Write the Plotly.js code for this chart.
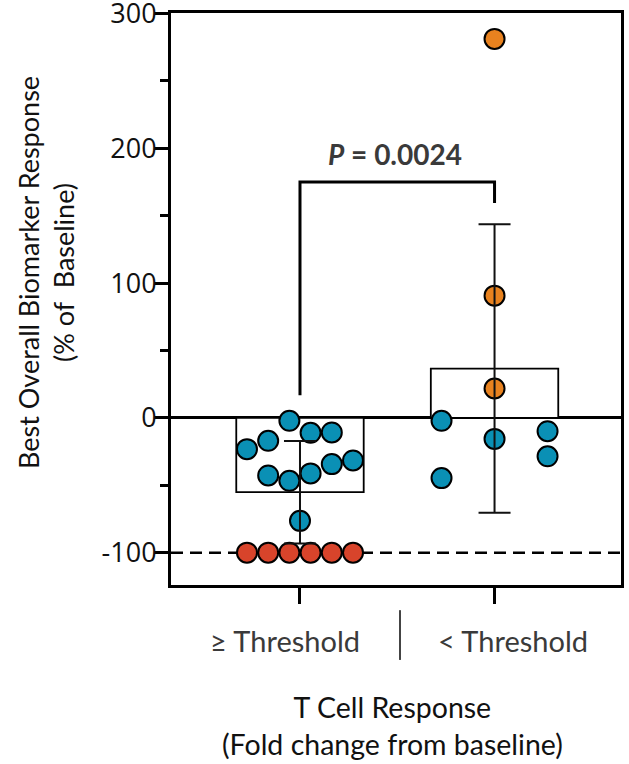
<!DOCTYPE html>
<html>
<head>
<meta charset="utf-8">
<script src="https://cdn.plot.ly/plotly-3.0.1.min.js"></script>
<style>html,body{margin:0;padding:0;background:#fff;}#chart{width:629px;height:764px;}</style>
</head>
<body>
<div id="chart"></div>
<script>
// ---- data ----
const categories = ["≥ Threshold", "< Threshold"];
// group 1 (≥ Threshold)
const g1BlueValues = [-2.2, -11.1, -10.8, -17.0, -23.2, -31.6, -34.3, -41.2, -42.7, -46.7, -76.4];
const g1BlueSlots  = [-0.5, 0.5, 1.5, -1.5, -2.5, 2.5, 1.5, 0.5, -1.5, -0.5, 0];
const g1RedValues  = [-100, -100, -100, -100, -100, -100];
const g1RedSlots   = [-2.5, -1.5, -0.5, 0.5, 1.5, 2.5];
// group 2 (< Threshold)
const g2OrangeValues = [281.2, 90.7, 21.8];
const g2OrangeSlots  = [0, 0, 0];
const g2BlueValues   = [-2.2, -15.6, -9.9, -28.5, -44.7];
const g2BlueSlots    = [-2.5, 0, 2.5, 2.5, -2.5];
const yTickVals = [-100, 0, 100, 200, 300];
const yTickText = ["-100", "0", "100", "200", "300"];
const pValueText = "<i>P</i> = 0.0024";
const bracketLeftBottom = 16.8, bracketTop = 175, bracketRightBottom = 159.4;

// ---- helpers ----
const slotStep = 0.109;
const swarmX = (g, slots) => slots.map(s => g + s * slotStep);
function mean(a){ return a.reduce((s,v)=>s+v,0)/a.length; }
function sd(a){ const m=mean(a); return Math.sqrt(a.reduce((s,v)=>s+(v-m)*(v-m),0)/(a.length-1)); }
const g1All = g1BlueValues.concat(g1RedValues);
const g2All = g2OrangeValues.concat(g2BlueValues);
const means = [mean(g1All), mean(g2All)];
const sds = [sd(g1All), sd(g2All)];

const blue = "#0a90b5", red = "#d8442b", orange = "#e8821f";
const mk = c => ({size: 20, color: c, line: {color: "#000", width: 2}});

const traces = [
  {type: "bar", x: [0, 1], y: means, width: 0.655,
   marker: {color: "#fff", line: {color: "#000", width: 1.8}}, hoverinfo: "skip"},
  {type: "scatter", mode: "markers", x: swarmX(0, g1BlueSlots), y: g1BlueValues, marker: mk(blue), hoverinfo: "y"},
  {type: "scatter", mode: "markers", x: swarmX(0, g1RedSlots), y: g1RedValues, marker: mk(red), hoverinfo: "y"},
  {type: "scatter", mode: "markers", x: swarmX(1, g2OrangeSlots), y: g2OrangeValues, marker: mk(orange), hoverinfo: "y"},
  {type: "scatter", mode: "markers", x: swarmX(1, g2BlueSlots), y: g2BlueValues, marker: mk(blue), hoverinfo: "y"},
  {type: "scatter", mode: "markers", x: [0, 1], y: means,
   marker: {size: 1, color: "rgba(0,0,0,0)"},
   error_y: {type: "data", array: sds, visible: true, color: "#111", thickness: 2, width: 16},
   hoverinfo: "skip"}
];

const layout = {
  width: 629, height: 764,
  margin: {l: 171, r: 8, t: 13, b: 179},
  paper_bgcolor: "#fff", plot_bgcolor: "#fff",
  showlegend: false,
  font: {family: "Lato, 'Open Sans', sans-serif", color: "#111"},
  xaxis: {
    range: [-0.663, 1.650], tickvals: [0, 1], showticklabels: false,
    ticks: "outside", ticklen: 16, tickwidth: 3, tickcolor: "#000",
    showline: true, linewidth: 3, linecolor: "#000", mirror: true,
    showgrid: false, zeroline: false, fixedrange: true
  },
  yaxis: {
    range: [-124, 300.4], tickmode: "array", tickvals: yTickVals, ticktext: yTickText,
    ticks: "outside", ticklen: 14, tickwidth: 3, tickcolor: "#000",
    tickfont: {family: "'Open Sans', sans-serif", size: 27, color: "#111"},
    ticklabeloverflow: "allow", ticklabelstandoff: -8,
    minor: {dtick: 50, tick0: 0, ticks: "outside", ticklen: 8, tickwidth: 3, tickcolor: "#000", showgrid: false},
    showline: true, linewidth: 3, linecolor: "#000", mirror: true,
    showgrid: false, zeroline: true, zerolinewidth: 3, zerolinecolor: "#000", fixedrange: true
  },
  shapes: [
    {type: "line", xref: "paper", yref: "y", x0: 0, x1: 1, y0: -100, y1: -100,
     line: {color: "#000", width: 2.5, dash: "12px,7px"}, layer: "below"},
    {type: "path", xref: "x", yref: "y",
     path: `M 0 ${bracketLeftBottom} L 0 ${bracketTop} L 1 ${bracketTop} L 1 ${bracketRightBottom}`,
     line: {color: "#000", width: 3}},
    {type: "line", xref: "x", yref: "paper", x0: 0.514, x1: 0.514, y0: -0.044, y1: -0.131,
     line: {color: "#444", width: 2}}
  ],
  annotations: [
    {text: "<b>" + pValueText + "</b>", xref: "x", yref: "y", x: 0.49, y: 196,
     showarrow: false, xanchor: "center", yanchor: "middle",
     font: {size: 28, color: "#3a3a3a"}},
    {text: categories[0], xref: "x", yref: "paper", x: 0, y: 0, xshift: -15, yshift: -55,
     showarrow: false, xanchor: "center", yanchor: "middle", font: {size: 29, color: "#3a3a3a"}},
    {text: categories[1], xref: "x", yref: "paper", x: 1, y: 0, xshift: 18, yshift: -55,
     showarrow: false, xanchor: "center", yanchor: "middle", font: {size: 29, color: "#3a3a3a"}},
    {text: "T Cell Response<br>(Fold change from baseline)", xref: "paper", yref: "paper",
     x: 0.5, y: 0, xshift: -4, yshift: -140, xanchor: "center", yanchor: "middle",
     showarrow: false, font: {size: 28.5, color: "#111"}},
    {text: "Best Overall Biomarker Response<br>(% of \u00a0Baseline)", xref: "paper", yref: "paper",
     x: 0, y: 0.5, xshift: -125, yshift: 26, xanchor: "center", yanchor: "middle",
     textangle: -90, showarrow: false, font: {size: 27, color: "#111"}}
  ]
};

Plotly.newPlot("chart", traces, layout, {displayModeBar: false, staticPlot: true});
</script>
</body>
</html>
